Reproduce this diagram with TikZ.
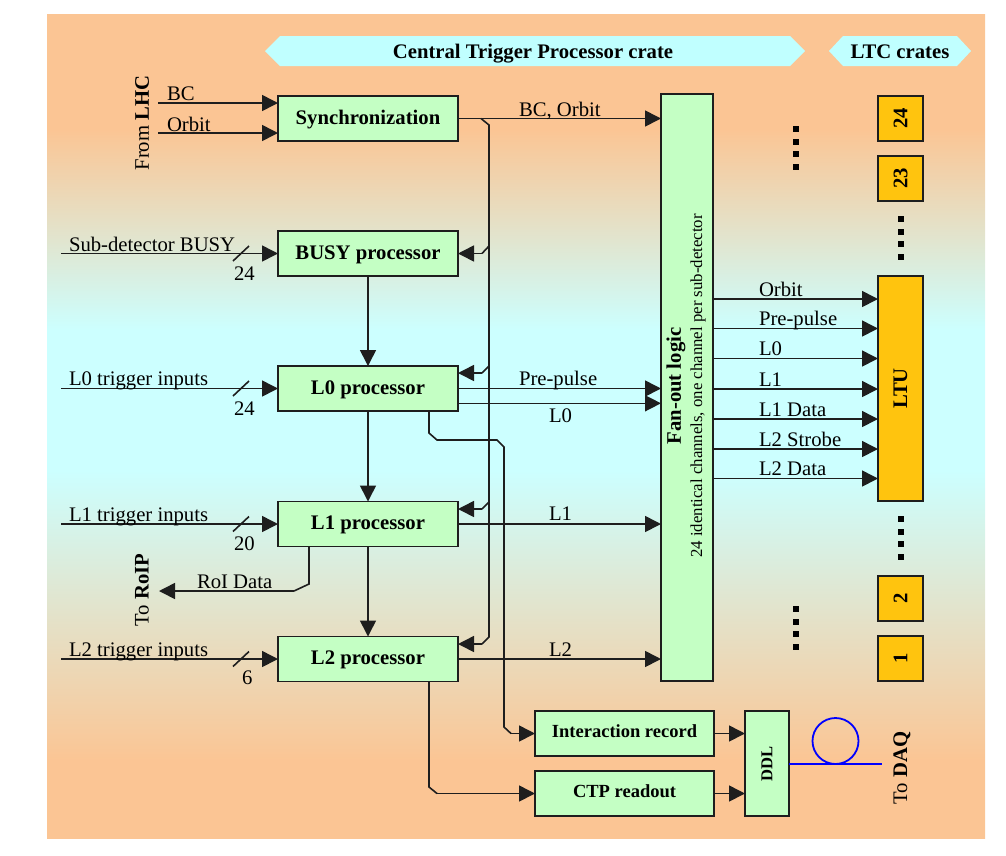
\documentclass[tikz,border=0pt]{standalone}
\usepackage{fontspec}
\setmainfont{Liberation Serif}
\usetikzlibrary{arrows.meta,calc}
\definecolor{bgP}{RGB}{251,197,148}
\definecolor{bgC}{RGB}{204,255,255}
\definecolor{bann}{RGB}{192,255,255}
\definecolor{boxG}{RGB}{196,255,196}
\definecolor{boxO}{RGB}{255,196,14}
\definecolor{edge}{RGB}{30,30,30}
\pgfdeclareverticalshading{bgsh}{100bp}{color(0bp)=(bgP); color(25bp)=(bgP); color(29.7bp)=(bgP); color(47.3bp)=(bgC); color(55.8bp)=(bgC); color(68bp)=(bgP); color(75bp)=(bgP); color(100bp)=(bgP)}
\begin{document}
\begin{tikzpicture}[x=1pt,y=-1pt,
  every node/.style={font=\fontsize{20.7}{24}\selectfont, inner sep=0pt, outer sep=0pt},
  gbox/.style={draw=edge, line width=1.6pt, fill=boxG, font=\fontsize{20.7}{24}\selectfont\bfseries, minimum width=180pt, minimum height=45pt, text height=15pt, text depth=4pt},
  sbox/.style={gbox, font=\fontsize{18.5}{22}\selectfont\bfseries, minimum width=179pt, text height=13pt, text depth=5pt},
  obox/.style={draw=edge, line width=1.6pt, fill=boxO, font=\fontsize{20.7}{24}\selectfont\bfseries, minimum width=45pt, minimum height=45pt},
  wire/.style={draw=edge, line width=1.6pt},
  arr/.style={wire, -{Triangle[length=16pt,width=16pt]}},
  lbl/.style={anchor=base west},
  dotsq/.style={fill=black, minimum size=6pt},
  bannertext/.style={anchor=base, font=\fontsize{20.7}{24}\selectfont\bfseries},
]
\useasboundingbox (0,0) rectangle (1006,855);
\shade[shading=bgsh] (47,14) rectangle (985,838);

% banners
\fill[bann] (265,51) -- (280,36) -- (790,36) -- (805,51) -- (790,66) -- (280,66) -- cycle;
\fill[bann] (829,51) -- (843,36) -- (957,36) -- (971,51) -- (957,66) -- (843,66) -- cycle;
\node[bannertext] (tctp) at (533,58) {Central Trigger Processor crate};
\node[bannertext] (tltc) at (900,58) {LTC crates};

% main boxes
\node[gbox] (sync) at (368,118.5) {Synchronization};
\node[gbox] (busy) at (368,253.5) {BUSY processor};
\node[gbox] (l0) at (368,388.5) {L0 processor};
\node[gbox] (l1) at (368,524) {L1 processor};
\node[gbox] (l2) at (368,659) {L2 processor};
\node[gbox, minimum width=52pt, minimum height=587pt] (fan) at (687,387.5) {};
\node[rotate=90, font=\fontsize{20.7}{24}\selectfont\bfseries] (fantitle) at (676,386) {Fan-out logic};
\node[rotate=90, font=\fontsize{16.8}{20}\selectfont] (fansub) at (698,386) {24 identical channels, one channel per sub-detector};
\node[sbox] (ir) at (624.5,733.5) {Interaction record};
\node[sbox] (ctp) at (624.5,793.5) {CTP readout};
\node[gbox, minimum width=44pt, minimum height=105pt, text height=0pt, text depth=0pt] (ddl) at (767,763.5) {};
\node[rotate=90, font=\fontsize{16.6}{20}\selectfont\bfseries] (ddlt) at (767,763.5) {DDL};

% LTC crates
\node[obox, minimum height=225pt] (ltu) at (900.5,388.5) {};
\node[rotate=90, font=\fontsize{20.7}{24}\selectfont\bfseries] (ltut) at (900.5,388.5) {LTU};
\node[obox] (c24) at (900.5,118.5) {};
\node[rotate=90, font=\fontsize{20.7}{24}\selectfont\bfseries] at (c24) {24};
\node[obox] (c23) at (900.5,178.5) {};
\node[rotate=90, font=\fontsize{20.7}{24}\selectfont\bfseries] at (c23) {23};
\node[obox] (c2) at (900.5,598.5) {};
\node[rotate=90, font=\fontsize{20.7}{24}\selectfont\bfseries] at (c2) {2};
\node[obox] (c1) at (900.5,658.5) {};
\node[rotate=90, font=\fontsize{20.7}{24}\selectfont\bfseries] at (c1) {1};

% dots
\foreach \yy in {129,141.5,154,166.5,609,621.5,634,646.5} {\node[dotsq] at (796,\yy) {};}
\foreach \yy in {219,231.5,244,256.5,519,531.5,544,556.5} {\node[dotsq] at (901,\yy) {};}

% LHC inputs
\node[rotate=90] (fromlhc) at (142,123) {From \textbf{LHC}};
\coordinate (inbc) at (158,103);
\coordinate (inorb) at (158,133);
\draw[arr] (inbc) -- (inbc -| sync.west);
\draw[arr] (inorb) -- (inorb -| sync.west);
\node[lbl] (lbc) at (167,100) {BC};
\node[lbl] (lorb) at (167,131) {Orbit};

% trigger inputs
\coordinate (inbusy) at (61,253.5);
\coordinate (inl0) at (61,388.5);
\coordinate (inl1) at (61,524);
\coordinate (inl2) at (61,659);
\foreach \c in {inbusy,inl0,inl1,inl2} {
  \draw[arr] (\c) -- (\c -| sync.west);
  \draw[wire] ($(\c)+(172,7.5)$) -- ($(\c)+(188,-7.5)$);
}
\node[lbl] (lbusy) at (69,251) {Sub-detector BUSY};
\node[lbl] (nbusy) at (234,280) {24};
\node[lbl] (ll0) at (69,385.7) {L0 trigger inputs};
\node[lbl] (nl0) at (234,415) {24};
\node[lbl] (ll1) at (69,521) {L1 trigger inputs};
\node[lbl] (nl1) at (234,550) {20};
\node[lbl] (ll2) at (69,656) {L2 trigger inputs};
\node[lbl] (nl2) at (242,684) {6};

% processor chain
\draw[arr] (busy) -- (l0);
\draw[arr] (l0) -- (l1);
\draw[arr] (l1) -- (l2);

% sync bus
\draw[arr] (sync.east) -- (sync.east -| fan.west);
\node[lbl] (lbco) at (519,116) {BC, Orbit};
\draw[wire] (481,118.5) -- (489,125) -- (489,637) -- (482,644);
\draw[arr] (482,644) -- (482,644 -| l2.east);
\draw[wire] (489,246) -- (482,253.5);
\draw[arr] (482,253.5) -- (busy.east);
\draw[wire] (489,366) -- (482,373);
\draw[arr] (482,373) -- (482,373 -| l0.east);
\draw[wire] (489,502) -- (482,509);
\draw[arr] (482,509) -- (482,509 -| l1.east);

% to fan-out
\draw[arr] (l0.east) -- (l0.east -| fan.west);
\node[lbl] (lpp) at (519,385.7) {Pre-pulse};
\draw[arr] (l0.east |- 0,403.3) -- (fan.west |- 0,403.3);
\node[lbl] (ll0o) at (549,422.7) {L0};
\draw[arr] (l1.east) -- (l1.east -| fan.west);
\node[lbl] (ll1o) at (549,520.7) {L1};
\draw[arr] (l2.east) -- (l2.east -| fan.west);
\node[lbl] (ll2o) at (549,656) {L2};

% L0 to interaction record
\draw[wire] (l0.south -| 429,0) -- (429,433) -- (437,440) -- (497,440) -- (504,447) -- (504,727) -- (511,733.5);
\draw[arr] (511,733.5) -- (ir.west);
% L2 to CTP readout
\draw[wire] (l2.south -| 429,0) -- (429,787) -- (437,793.5);
\draw[arr] (437,793.5) -- (ctp.west);
% to DDL
\draw[arr] (ir.east) -- (ir.east -| ddl.west);
\draw[arr] (ctp.east) -- (ctp.east -| ddl.west);

% RoI
\draw[wire] (l1.south -| 309,0) -- (309,584) -- (294,591);
\coordinate (roi) at (159,591);
\draw[arr] (294,591) -- (roi);
\node[lbl] (lroi) at (197,588) {RoI Data};
\node[rotate=90] (toroip) at (142,590) {To \textbf{RoIP}};

% fan-out to LTU
\foreach \yy/\t in {299/Orbit,328.5/Pre-pulse,358.5/L0,389/L1,419/L1 Data,449/L2 Strobe,478.5/L2 Data} {
  \draw[arr] (fan.east |- 0,\yy) -- (ltu.west |- 0,\yy);
  \node[lbl] at (759,\yy-3) {\t};
}

% DDL fibre
\coordinate (daqend) at (882,764);
\draw[blue, line width=1.8pt] (ddl.east |- daqend) -- (daqend);
\draw[blue, line width=1.8pt] (835.5,741) circle (23);
\node[rotate=90] (todaq) at (902,768) {To \textbf{DAQ}};
\end{tikzpicture}
\end{document}
